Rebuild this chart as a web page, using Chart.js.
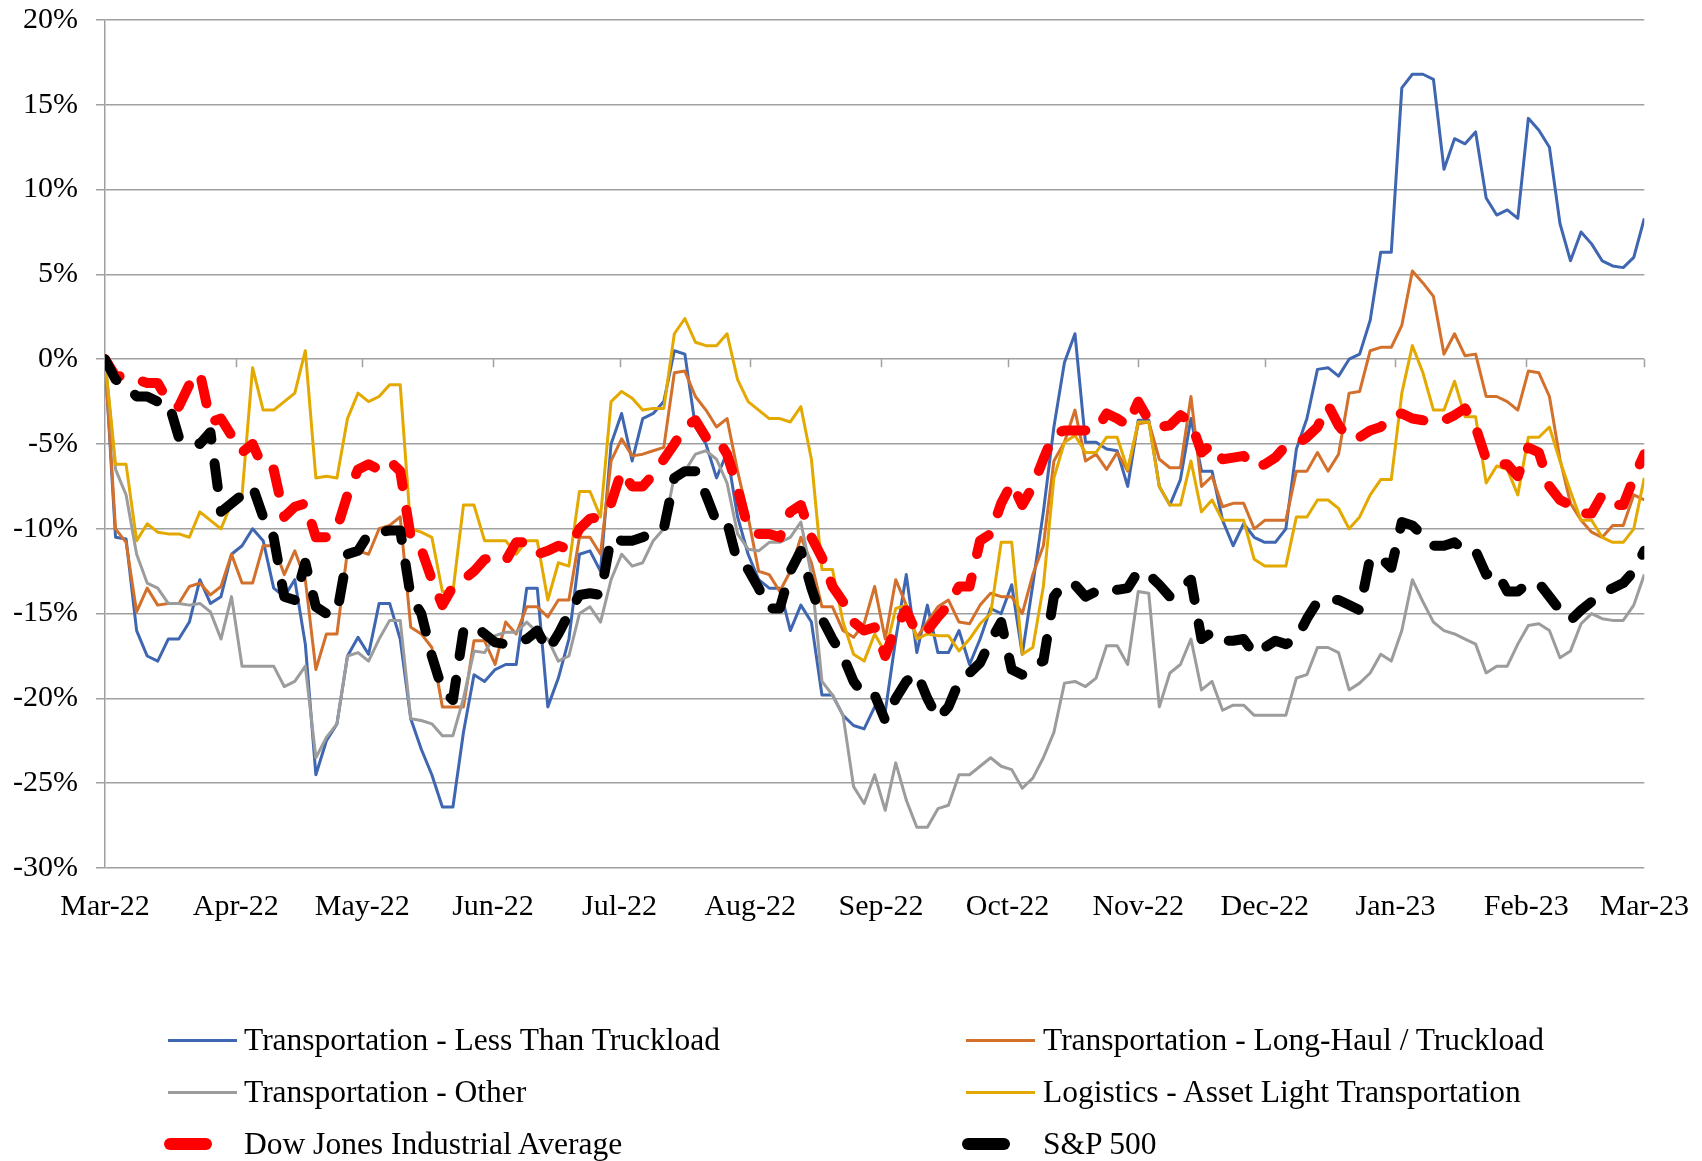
<!DOCTYPE html>
<html>
<head>
<meta charset="utf-8">
<script src="https://cdn.jsdelivr.net/npm/chart.js@4.4.1/dist/chart.umd.min.js"></script>
<style>
  html, body { margin: 0; padding: 0; background: #fff; }
  #wrap { position: relative; width: 1702px; height: 1161px; font-family: "Liberation Serif", "DejaVu Serif", serif; }
  canvas { position: absolute; left: 0; top: 0; }
  .leg { position: absolute; font-size: 31.5px; color: #000; line-height: 36px; white-space: nowrap; }
  .sw { position: absolute; }
</style>
</head>
<body>
<div id="wrap">
  <canvas id="c" width="1702" height="1161"></canvas>
  <div id="legend"></div>
</div>
<script>
// ---- data: % change since Mar-22, one value every 2.5 calendar days ----
const monthDays   = [0, 31, 61, 92, 122, 153, 184, 214, 245, 275, 306, 337, 365];
const monthLabels = ["Mar-22","Apr-22","May-22","Jun-22","Jul-22","Aug-22","Sep-22","Oct-22","Nov-22","Dec-22","Jan-23","Feb-23","Mar-23"];
const yTicks = [20, 15, 10, 5, 0, -5, -10, -15, -20, -25, -30];
const dayStep = 2.5;

const lessThanTruckload = [
0,-10.5,-10.6,-16,-17.5,-17.8,-16.5,-16.5,-15.5,-13,
-14.4,-14,-11.5,-11,-10,-10.7,-13.5,-14,-13,-16.8,
-24.5,-22.5,-21.5,-17.5,-16.4,-17.4,-14.4,-14.4,-16.5,-21.2,
-23,-24.5,-26.4,-26.4,-22,-18.6,-19,-18.3,-18,-18,
-13.5,-13.5,-20.5,-18.8,-16.5,-11.5,-11.3,-12.5,-5,-3.2,
-6,-3.5,-3.2,-2.5,0.5,0.3,-4,-5,-7,-5.5,
-9.3,-11.5,-13,-13.5,-13.5,-16,-14.5,-15.5,-19.8,-19.8,
-21,-21.6,-21.8,-20.5,-20.8,-16.5,-12.7,-17.3,-14.5,-17.3,
-17.3,-16,-18,-16.5,-14.7,-15,-13.3,-17.4,-13.3,-9,
-4,-0.2,1.5,-4.9,-4.9,-5.3,-5.4,-7.5,-3.6,-3.6,
-7.5,-8.6,-7.1,-3.5,-6.6,-6.6,-9.5,-11,-9.7,-10.5,
-10.8,-10.8,-10,-5.3,-3.5,-0.6,-0.5,-1,0,0.3,
2.3,6.3,6.3,16,16.8,16.8,16.5,11.2,13,12.7,
13.4,9.5,8.5,8.8,8.3,14.2,13.5,12.5,8,5.8,
7.5,6.8,5.8,5.5,5.4,6,8.3];

const longHaul = [
0,-10,-10.8,-14.9,-13.5,-14.5,-14.4,-14.4,-13.4,-13.2,
-13.9,-13.4,-11.5,-13.2,-13.2,-11,-11,-12.7,-11.3,-13,
-18.3,-16.2,-16.2,-11.3,-11.3,-11.5,-10,-9.8,-9.3,-15.8,
-16.2,-17,-20.5,-20.5,-20.5,-16.6,-16.6,-18,-15.5,-16.2,
-14.6,-14.6,-15.2,-14.2,-14.2,-10.5,-10.5,-11.5,-6,-4.7,
-5.7,-5.6,-5.4,-5.2,-0.8,-0.7,-2.2,-3,-4,-3.5,
-6.6,-9.3,-12.5,-12.7,-13.7,-12.5,-10.5,-12,-14.6,-14.6,
-16,-16.4,-15.6,-13.4,-16.5,-13,-14.5,-16.4,-15.5,-14.6,
-14.2,-15.5,-15.6,-14.5,-13.8,-14,-14,-15,-12.7,-11,
-6,-4.9,-3,-6,-5.6,-6.5,-5.5,-6.6,-3.8,-3.7,
-5.9,-6.4,-6.4,-2.2,-7.5,-6.9,-8.7,-8.5,-8.5,-10,
-9.5,-9.5,-9.5,-6.6,-6.6,-5.5,-6.6,-5.6,-2,-1.9,
0.5,0.7,0.7,2,5.2,4.5,3.7,0.3,1.5,0.2,
0.3,-2.2,-2.2,-2.5,-3,-0.7,-0.8,-2.2,-5.9,-8.5,
-9.5,-10.2,-10.5,-9.8,-9.8,-8,-8.3];

const transOther = [
0,-6.5,-8,-11.5,-13.2,-13.5,-14.4,-14.4,-14.5,-14.4,
-14.9,-16.5,-14,-18.1,-18.1,-18.1,-18.1,-19.3,-19,-18.1,
-23.5,-22.3,-21.5,-17.5,-17.3,-17.8,-16.5,-15.4,-15.4,-21.2,
-21.3,-21.5,-22.2,-22.2,-20,-17.2,-17.3,-16.3,-16.1,-16.1,
-15.5,-16.1,-16.5,-17.8,-17.5,-15,-14.6,-15.5,-13,-11.5,
-12.2,-12,-10.7,-10,-6.9,-6.6,-5.6,-5.4,-5.9,-7.3,
-10.3,-11.2,-11.3,-10.8,-10.8,-10.5,-9.6,-12.7,-19,-19.8,
-21,-25.2,-26.2,-24.5,-26.6,-23.8,-26,-27.6,-27.6,-26.5,
-26.3,-24.5,-24.5,-24,-23.5,-24,-24.2,-25.3,-24.7,-23.5,
-22,-19.1,-19,-19.3,-18.8,-16.9,-16.9,-18,-13.7,-13.8,
-20.5,-18.5,-18,-16.5,-19.5,-19,-20.7,-20.4,-20.4,-21,
-21,-21,-21,-18.8,-18.6,-17,-17,-17.3,-19.5,-19.1,
-18.5,-17.4,-17.8,-16,-13,-14.3,-15.5,-16,-16.2,-16.5,
-16.8,-18.5,-18.1,-18.1,-16.8,-15.7,-15.6,-16,-17.6,-17.2,
-15.6,-15,-15.3,-15.4,-15.4,-14.5,-12.7];

const assetLight = [
0,-6.2,-6.2,-10.7,-9.7,-10.2,-10.3,-10.3,-10.5,-9,
-9.5,-10,-8.5,-8,-0.5,-3,-3,-2.5,-2,0.5,
-7,-6.9,-7,-3.5,-2,-2.5,-2.2,-1.5,-1.5,-10,
-10.2,-10.5,-13.7,-13.7,-8.6,-8.6,-10.7,-10.7,-10.7,-11.5,
-10.7,-10.7,-14.2,-12,-12.2,-7.8,-7.8,-9.3,-2.5,-1.9,
-2.3,-3,-2.9,-2.9,1.5,2.4,1,0.8,0.8,1.5,
-1.2,-2.5,-3,-3.5,-3.5,-3.7,-2.8,-5.9,-12.4,-12.4,
-15.5,-17.4,-17.8,-16.2,-17.3,-14.7,-14.5,-16.5,-16.2,-16.3,
-16.3,-17.2,-16.5,-15.6,-15,-10.8,-10.8,-17.4,-17,-13.4,
-7,-4.9,-4.5,-5.5,-5.5,-4.6,-4.6,-6.5,-3.7,-3.7,
-7.5,-8.6,-8.6,-6,-9,-8.3,-9.5,-9.5,-9.5,-11.8,
-12.2,-12.2,-12.2,-9.3,-9.3,-8.3,-8.3,-8.8,-10,-9.3,
-8,-7.1,-7.1,-2,0.8,-0.8,-3,-3,-1.3,-3.4,
-3.4,-7.3,-6.3,-6.5,-8,-4.6,-4.6,-4,-6,-7.8,
-9.5,-9.5,-10.5,-10.8,-10.8,-10,-7];

const dowJones = [
0,-1,-1,-1.2,-1.4,-1.4,-2.5,-2.8,-1.5,-0.8,
-3.7,-3.5,-4.5,-5.5,-5,-6.4,-6.5,-9.3,-8.7,-8.5,
-10.5,-10.5,-10,-8,-6.5,-6.2,-6.5,-6,-6.6,-10.5,
-11.2,-13,-14.5,-13.4,-13,-12.5,-11.8,-11.7,-11.9,-10.8,
-10.8,-11.5,-11.3,-11,-11.2,-10,-9.4,-9.3,-8.5,-6.6,
-7.5,-7.5,-6.8,-5.9,-5,-4,-3.6,-4.6,-4.6,-5.6,
-7.6,-10,-10.3,-10.3,-10.5,-9,-8.6,-10.5,-11.7,-13.4,
-14.3,-15.5,-16,-15.8,-17.5,-15.8,-14.8,-16.2,-16,-15.2,
-14.5,-13.4,-13.4,-10.7,-10.3,-8.5,-7.3,-8.6,-7.5,-5.9,
-4.4,-4.2,-4.2,-4.2,-4.2,-3.2,-3.5,-3.9,-2.5,-3.6,
-4,-3.9,-3.3,-3.7,-5.5,-5,-5.9,-5.8,-5.7,-6.4,
-6.2,-5.8,-5.1,-5,-4.6,-4,-2.7,-3.9,-4.7,-4.6,
-4.2,-4,-3.3,-3.2,-3.5,-3.6,-3.7,-3.6,-3.3,-2.9,
-4,-5.9,-6.2,-6.2,-6.9,-5.2,-5.5,-7.5,-8.3,-8.6,
-9.1,-9.1,-8,-8.6,-8.6,-7,-5.6];

const sp500 = [
0,-1.2,-1.5,-2.2,-2.2,-2.5,-2.5,-4.6,-4.5,-5,
-4.3,-9,-8.5,-8,-7.5,-9.3,-10.5,-14,-14.2,-12,
-14.6,-15,-15,-11.5,-11.3,-10.3,-10.2,-10.1,-10.1,-14,
-15,-17.5,-19.5,-20.1,-16,-15.7,-16.2,-16.7,-16.8,-16.7,
-16.5,-16,-17.2,-16.2,-15,-13.9,-13.8,-13.9,-10.5,-10.7,
-10.7,-10.5,-10.2,-10,-7,-6.6,-6.6,-8,-9.6,-9.6,
-12,-12.4,-13.5,-14.7,-14.7,-12.5,-11.3,-13.5,-15.3,-16.5,
-17.5,-19,-19.8,-19.8,-21.3,-20,-19,-18.5,-20,-21.2,
-20.5,-19,-18.5,-17.9,-16.6,-15.5,-18.3,-18.6,-18,-17.8,
-14,-13.2,-13.3,-14,-13.7,-13.5,-13.6,-13.5,-12.5,-12.7,
-13.3,-14,-13.5,-13,-16.5,-16.1,-16.6,-16.6,-16.5,-17.4,
-17,-16.6,-16.8,-16.5,-15.3,-14.3,-14.2,-14.2,-14.5,-14.8,
-11.7,-11.7,-12.3,-9.6,-9.8,-10.4,-11,-11,-10.8,-11.3,
-11.3,-12.7,-12.5,-13.7,-13.7,-13.2,-13.2,-14,-14.8,-15.4,
-14.8,-14.3,-13.8,-13.5,-13.2,-12.5,-11.3];

const seriesNames = ["Transportation - Less Than Truckload","Transportation - Long-Haul / Truckload","Transportation - Other","Logistics - Asset Light Transportation","Dow Jones Industrial Average","S&P 500"];
const seriesValues = [lessThanTruckload, longHaul, transOther, assetLight, dowJones, sp500];
const seriesColors = ["#3F66B0","#D3702C","#9C9C9C","#E4A900","#FF0000","#000000"];

// ---- chart ----
const FONT = "'Liberation Serif', 'DejaVu Serif', serif";
const toPts = arr => arr.map((v, i) => ({ x: i * dayStep, y: v }));

const datasets = seriesValues.map((vals, i) => {
  const dashed = i >= 4;
  return {
    label: seriesNames[i],
    data: toPts(vals),
    borderColor: seriesColors[i],
    backgroundColor: seriesColors[i],
    borderWidth: dashed ? 10 : 3,
    borderDash: dashed ? [24, 24] : [],
    borderCapStyle: dashed ? 'round' : 'butt',
    borderJoinStyle: 'round',
    pointRadius: 0,
    tension: 0,
    fill: false,
    order: 6 - i
  };
});

const monthTickPlugin = {
  id: 'monthTicks',
  beforeDatasetsDraw(chart) {
    const ctx = chart.ctx, xs = chart.scales.x, ys = chart.scales.y;
    const y0 = ys.getPixelForValue(0);
    ctx.save();
    ctx.strokeStyle = '#A0A0A0';
    ctx.lineWidth = 1.5;
    monthDays.forEach(d => {
      const x = Math.round(xs.getPixelForValue(d)) + 0.5;
      ctx.beginPath();
      ctx.moveTo(x, y0);
      ctx.lineTo(x, y0 + 8);
      ctx.stroke();
    });
    ctx.restore();
  }
};

new Chart(document.getElementById('c'), {
  type: 'line',
  data: { datasets },
  plugins: [monthTickPlugin],
  options: {
    responsive: false,
    animation: false,
    devicePixelRatio: 1,
    layout: { autoPadding: false, padding: { left: 0, right: 49, top: 20, bottom: 0 } },
    plugins: { legend: { display: false }, tooltip: { enabled: false } },
    scales: {
      x: {
        type: 'linear',
        min: 0, max: 365,
        grid: { display: false },
        border: { display: false },
        afterFit(s) { s.height = 293; },
        afterBuildTicks(s) { s.ticks = monthDays.map(v => ({ value: v })); },
        ticks: {
          autoSkip: false, maxRotation: 0, padding: 13,
          color: '#000',
          font: { family: FONT, size: 30 },
          callback: v => monthLabels[monthDays.indexOf(v)]
        }
      },
      y: {
        min: -30, max: 20,
        afterFit(s) { s.width = 105; s.paddingTop = 0; s.paddingBottom = 0; },
        afterBuildTicks(s) { s.ticks = yTicks.map(v => ({ value: v })); },
        grid: { color: '#A0A0A0', lineWidth: 1.5, tickLength: 9 },
        border: { display: true, color: '#A0A0A0', width: 1.5 },
        ticks: {
          padding: 18, color: '#000',
          font: { family: FONT, size: 30 },
          callback: v => v + '%'
        }
      }
    }
  }
});

// ---- legend (HTML, two columns) ----
const legend = document.getElementById('legend');
const rowsY = [1040, 1092, 1144];
const colSwatch = [168, 966];
const colText = [244, 1043];
seriesNames.forEach((name, i) => {
  const row = Math.floor(i / 2), col = i % 2;
  const cy = rowsY[row];
  const sw = document.createElement('div');
  sw.className = 'sw';
  if (i >= 4) {
    sw.style.left = (colSwatch[col] - 4) + 'px';
    sw.style.width = '48px';
    sw.style.height = '12px';
    sw.style.top = (cy - 6) + 'px';
    sw.style.borderRadius = '6px';
  } else {
    sw.style.left = colSwatch[col] + 'px';
    sw.style.width = '69px';
    sw.style.height = '3px';
    sw.style.top = (cy - 1) + 'px';
  }
  sw.style.background = seriesColors[i];
  legend.appendChild(sw);
  const t = document.createElement('div');
  t.className = 'leg';
  t.textContent = name;
  t.style.left = colText[col] + 'px';
  t.style.top = (cy - 18) + 'px';
  legend.appendChild(t);
});
</script>
</body>
</html>
